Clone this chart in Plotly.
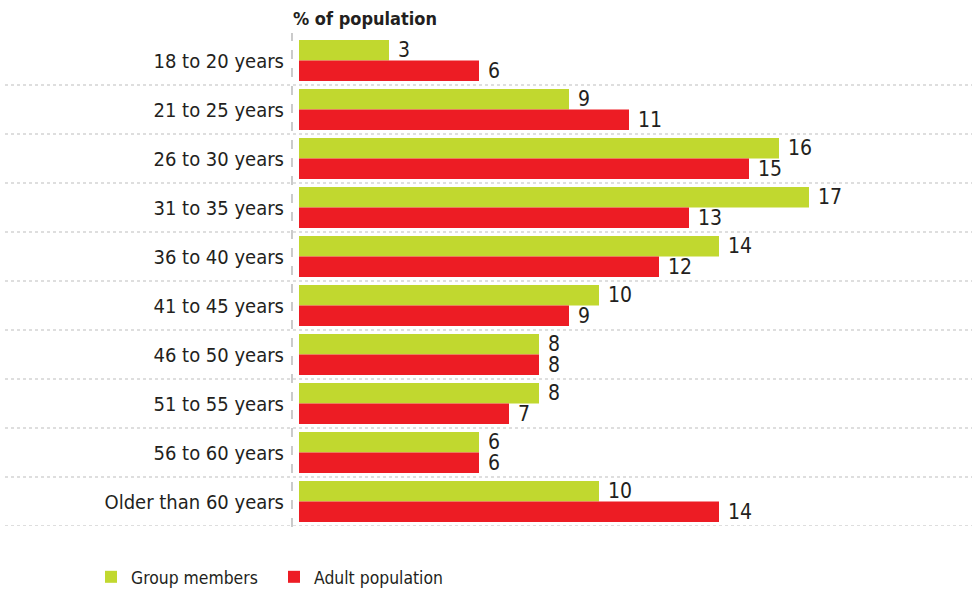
import plotly.graph_objects as go

categories = ["18 to 20 years", "21 to 25 years", "26 to 30 years", "31 to 35 years",
              "36 to 40 years", "41 to 45 years", "46 to 50 years", "51 to 55 years",
              "56 to 60 years", "Older than 60 years"]
group_members = [3, 9, 16, 17, 14, 10, 8, 8, 6, 10]
adult_population = [6, 11, 15, 13, 12, 9, 8, 7, 6, 14]
series_names = ["Group members", "Adult population"]
axis_title = "% of population"

GREEN = "#C1D82F"
RED = "#ED1C24"
TXT = "#231F20"
FONT = "DejaVu Sans Condensed, Roboto, sans-serif"

W, H = 978, 591
L, R, T, B = 299, 6, 36, 65
pw = W - L - R
ph = H - T - B

fig = go.Figure()
for name, vals, col in [(series_names[0], group_members, GREEN),
                        (series_names[1], adult_population, RED)]:
    fig.add_trace(go.Bar(
        y=categories, x=vals, name=name, orientation="h",
        marker=dict(color=col, line=dict(width=0)),
        text=vals, texttemplate=" %{x}", textposition="outside",
        textfont=dict(family=FONT, size=21, color=TXT),
        constraintext="none", cliponaxis=False,
    ))

shapes = []
for i in range(len(categories)):
    shapes.append(dict(type="line", xref="paper", yref="y",
                       x0=(5 - L) / pw, x1=(972 - L) / pw, y0=i + 0.5, y1=i + 0.5,
                       line=dict(color="#BDBDBD", width=1.2, dash="dot")))
shapes.append(dict(type="line", xref="paper", yref="paper",
                   x0=(292 - L) / pw, x1=(292 - L) / pw,
                   y0=-(527 - 526) / ph, y1=1 + (36 - 33) / ph,
                   line=dict(color="#A8A8A8", width=1.2, dash="dash")))

fig.update_layout(
    width=W, height=H,
    margin=dict(l=L, r=R, t=T, b=B, autoexpand=False),
    paper_bgcolor="white", plot_bgcolor="white",
    barmode="group", bargap=8 / 49, bargroupgap=0,
    font=dict(family=FONT, color=TXT, size=20),
    xaxis=dict(range=[0, pw / 30], showgrid=False, zeroline=False,
               showticklabels=False, showline=False, fixedrange=True,
               automargin=False),
    yaxis=dict(autorange=False, range=[len(categories) - 0.5, -0.5],
               showgrid=False, zeroline=False, showline=False,
               tickfont=dict(family=FONT, size=20, color=TXT),
               ticklabelstandoff=14, ticks="", automargin=False,
               fixedrange=True),
    shapes=shapes,
    annotations=[dict(text="<b>" + axis_title + "</b>", xref="paper", yref="paper",
                      x=(291 - L) / pw, y=1 + (36 - 18) / ph, xanchor="left",
                      yanchor="middle", showarrow=False,
                      font=dict(family=FONT, size=18, color=TXT))],
    legend=dict(orientation="h", x=(91 - L) / pw, xanchor="left",
                y=-(577 - 526) / ph, yanchor="middle",
                font=dict(family=FONT, size=17.4, color=TXT),
                traceorder="normal", entrywidth=138, entrywidthmode="pixels"),
)

fig.write_html("out.html", config={"displayModeBar": False},
               post_script="document.body.style.margin='0';")
